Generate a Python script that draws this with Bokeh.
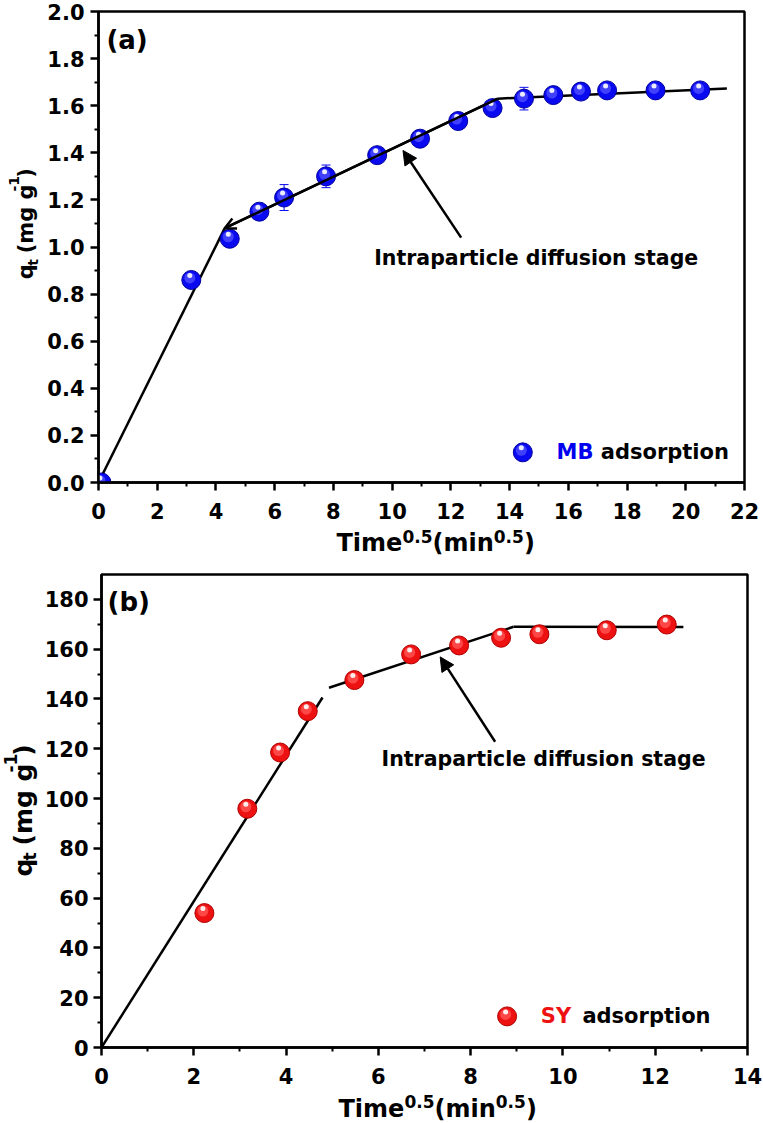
from bokeh.plotting import figure
from bokeh.models import (Range1d, FixedTicker, PrintfTickFormatter, Label, Arrow,
                          NormalHead, OpenHead, ColumnDataSource)
from bokeh.layouts import column, row
from bokeh.transform import dodge
from bokeh.embed import file_html
from bokeh.resources import INLINE

# ---------------- panel (a): MB ----------------
mb_x = [0.1, 3.16, 4.47, 5.48, 6.32, 7.75, 9.49, 10.95, 12.25, 13.42, 14.49, 15.49, 16.43, 17.32, 18.97, 20.49]
mb_y = [0.0, 0.86, 1.035, 1.15, 1.21, 1.30, 1.39, 1.46, 1.535, 1.59, 1.63, 1.645, 1.66, 1.665, 1.665, 1.665]
mb_err = [0.0, 0.01, 0.01, 0.015, 0.055, 0.048, 0.015, 0.015, 0.015, 0.012, 0.048, 0.015, 0.012, 0.012, 0.012, 0.012]
mb_fit1_x = [0.0, 4.3]
mb_fit1_y = [0.0, 1.08]
mb_fit2_x = [4.3, 13.6]
mb_fit2_y = [1.08, 1.63]
mb_fit3_x = [13.6, 21.4]
mb_fit3_y = [1.63, 1.673]
mb_arrow_tail = [12.35, 1.04]
mb_arrow_head = [10.37, 1.41]
a_xticks = [0, 2, 4, 6, 8, 10, 12, 14, 16, 18, 20, 22]
a_xminor = [1, 3, 5, 7, 9, 11, 13, 15, 17, 19, 21]
a_yticks = [0.0, 0.2, 0.4, 0.6, 0.8, 1.0, 1.2, 1.4, 1.6, 1.8, 2.0]
a_yminor = [0.1, 0.3, 0.5, 0.7, 0.9, 1.1, 1.3, 1.5, 1.7, 1.9]

# ---------------- panel (b): SY ----------------
sy_x = [2.23, 3.16, 3.87, 4.47, 5.48, 6.71, 7.75, 8.66, 9.49, 10.95, 12.25]
sy_y = [54.0, 95.9, 118.5, 135.1, 147.6, 157.9, 161.5, 164.6, 166.0, 167.6, 169.9]
sy_fit1_x = [0.0, 4.79]
sy_fit1_y = [0.0, 140.6]
sy_fit2_x = [4.93, 8.93]
sy_fit2_y = [144.5, 169.0]
sy_fit3_x = [8.93, 12.61]
sy_fit3_y = [169.0, 168.9]
sy_arrow_tail = [8.53, 122.8]
sy_arrow_head = [7.34, 156.9]
b_xticks = [0, 2, 4, 6, 8, 10, 12, 14]
b_xminor = [1, 3, 5, 7, 9, 11, 13]
b_yticks = [0, 20, 40, 60, 80, 100, 120, 140, 160, 180]
b_yminor = [10, 30, 50, 70, 90, 110, 130, 150, 170]

FONT = "DejaVu Sans"
BLUE = "#0a0af0"
RED = "#ee1111"
TOTAL_W = 763
MID = 0.346  # distance baseline -> middle of font box (em)

# DejaVu Sans Bold advance widths (em)
ADV = {" ": .348, "(": .456, ")": .456, "-": .415, ".": .381, "T": .682, "i": .343,
       "m": 1.042, "e": .678, "n": .712, "q": .716, "t": .478, "g": .716,
       "M": .994, "B": .762, "S": .720, "Y": .724}
for d in "0123456789":
    ADV[d] = .696


def tw(text, size):
    return sum(ADV.get(c, .6) for c in text) * size


def make_panel(width, height, xr, yr, xt, xm, yt, ym, yfmt, left, right, top, bottom):
    p = figure(width=width, height=height, x_range=Range1d(*xr), y_range=Range1d(*yr),
               output_backend="svg", toolbar_location=None, tools="",
               min_border_left=left, min_border_right=right,
               min_border_top=top, min_border_bottom=bottom)
    p.grid.visible = False
    p.outline_line_color = "black"
    p.outline_line_width = 2.5
    p.outline_line_alpha = 1.0
    p.xaxis.ticker = FixedTicker(ticks=xt, minor_ticks=xm)
    p.yaxis.ticker = FixedTicker(ticks=yt, minor_ticks=ym)
    p.xaxis.formatter = PrintfTickFormatter(format="%d")
    p.yaxis.formatter = PrintfTickFormatter(format=yfmt)
    for ax in (p.xaxis[0], p.yaxis[0]):
        ax.axis_line_width = 2.5
        ax.axis_line_color = "black"
        ax.major_tick_line_width = 2.5
        ax.minor_tick_line_width = 2
        ax.major_tick_line_color = "black"
        ax.minor_tick_line_color = "black"
        ax.major_tick_out = 8
        ax.major_tick_in = 0
        ax.minor_tick_out = 4
        ax.minor_tick_in = 0
        ax.major_label_text_font = FONT
        ax.major_label_text_font_size = "21px"
        ax.major_label_text_font_style = "bold"
        ax.major_label_text_color = "black"
    p.xaxis.major_label_standoff = 12
    p.yaxis.major_label_standoff = 6
    return p


def text_fig(w, h):
    f = figure(width=w, height=h, x_range=Range1d(0, w), y_range=Range1d(0, h),
               output_backend="svg", toolbar_location=None, tools="",
               x_axis_type=None, y_axis_type=None, min_border=0)
    f.outline_line_color = None
    return f


def spheres(p, src, sx, sy, base, edge, mid):
    p.scatter(x="x", y="y", source=src, size=19, fill_color=base, line_color=edge, line_width=1)
    p.scatter(x=dodge("x", -1.5 * sx), y=dodge("y", 2.0 * sy), source=src, size=11,
              fill_color=mid, line_color=None, fill_alpha=0.85)
    p.scatter(x=dodge("x", -1.5 * sx), y=dodge("y", 4.5 * sy), source=src, size=5,
              fill_color="white", line_color=None, fill_alpha=0.9)


def lab(p, x, y, text, size, color="black", baseline="middle", angle=0.0, x_offset=0):
    p.add_layout(Label(x=x, y=y, x_offset=x_offset, text=text, text_font=FONT,
                       text_font_size=f"{size}px", text_font_style="bold", text_color=color,
                       text_align="left", text_baseline=baseline, angle=angle))


def runs_h(f, runs, x0, y_base):
    # y_base: baseline, measured upward from the bottom of the text figure
    cx = x0
    for text, size, shift in runs:
        lead = len(text) - len(text.lstrip(" "))
        cx += tw(" " * lead, size)
        body = text.lstrip(" ")
        lab(f, cx, y_base + shift + MID * size, body, size)
        cx += tw(body, size)


def runs_v(f, runs, x_base, y0):
    # rotated text reading upward; glyph "up" points to the left
    cy = y0
    for text, size, shift in runs:
        lead = len(text) - len(text.lstrip(" "))
        cy += tw(" " * lead, size)
        body = text.lstrip(" ")
        lab(f, x_base - shift - MID * size, cy, body, size, angle=1.5707963)
        cy += tw(body, size)


def panel_decor(p, fits, tail, head, kink_arrow):
    for fx, fy in fits:
        p.line(fx, fy, line_color="black", line_width=2.5)
    p.add_layout(Arrow(end=NormalHead(size=14, fill_color="black", line_color="black"),
                       x_start=tail[0], y_start=tail[1], x_end=head[0], y_end=head[1],
                       line_color="black", line_width=2.5))
    if kink_arrow is not None:
        fx, fy = kink_arrow
        p.add_layout(Arrow(end=OpenHead(size=11, line_color="black", line_width=2.5),
                           x_start=fx[1], y_start=fy[1], x_end=fx[0], y_end=fy[0],
                           line_color="black", line_width=2.5))


# ---------------- panel (a) ----------------
YA_W = 44
PA_H = 526
pa = make_panel(TOTAL_W - YA_W, PA_H, (0, 22), (0, 2), a_xticks, a_xminor, a_yticks, a_yminor,
                "%.1f", left=53, right=19, top=11, bottom=44)
ax_s = 22 / 647.0
ay_s = 2 / 471.0

lo = [y - e for y, e in zip(mb_y, mb_err)]
hi = [y + e for y, e in zip(mb_y, mb_err)]
esrc = ColumnDataSource(dict(x=mb_x, lo=lo, hi=hi))
pa.segment(x0="x", y0="lo", x1="x", y1="hi", source=esrc, line_color=BLUE, line_width=1)
pa.scatter(x="x", y="hi", source=esrc, marker="dash", size=9, line_color=BLUE, line_width=1)
pa.scatter(x="x", y="lo", source=esrc, marker="dash", size=9, line_color=BLUE, line_width=1)

panel_decor(pa, [(mb_fit1_x, mb_fit1_y), (mb_fit2_x, mb_fit2_y), (mb_fit3_x, mb_fit3_y)],
            mb_arrow_tail, mb_arrow_head, (mb_fit2_x, mb_fit2_y))
spheres(pa, ColumnDataSource(dict(x=mb_x, y=mb_y)), ax_s, ay_s, BLUE, "#0000a0", "#4a4aff")

lab(pa, 0.27, 1.877, "(a)", 26)
lab(pa, 9.39, 0.953, "Intraparticle diffusion stage", 20.5)
spheres(pa, ColumnDataSource(dict(x=[14.45], y=[0.128])), ax_s, ay_s, BLUE, "#0000a0", "#4a4aff")
lab(pa, 15.6, 0.128, "MB", 21, color="#0000ee")
lab(pa, 15.6, 0.128, "adsorption", 21, x_offset=tw("MB ", 21))

ya = text_fig(YA_W, PA_H)
runs_v(ya, [("q", 21, 0), ("t", 14, -4), (" (mg g", 21, 0), ("-1", 14, 15), (")", 21, 0)],
       33, PA_H - 299)

XA_H = 34
xa = text_fig(TOTAL_W, XA_H)
runs_h(xa, [("Time", 24, 0), ("0.5", 17, 9.5), ("(min", 24, 0), ("0.5", 17, 9.5), (")", 24, 0)],
       336, XA_H - (551 - 526))

# ---------------- panel (b) ----------------
YB_W = 41
PB_H = 531
pb = make_panel(TOTAL_W - YB_W, PB_H, (0, 14), (0, 190), b_xticks, b_xminor, b_yticks, b_yminor,
                "%d", left=59, right=16, top=14, bottom=44)
pb.yaxis.major_label_standoff = 5
bx_s = 14 / 647.0
by_s = 190 / 473.0

panel_decor(pb, [(sy_fit1_x, sy_fit1_y), (sy_fit2_x, sy_fit2_y), (sy_fit3_x, sy_fit3_y)],
            sy_arrow_tail, sy_arrow_head, None)
spheres(pb, ColumnDataSource(dict(x=sy_x, y=sy_y)), bx_s, by_s, RED, "#b00000", "#ff5050")

lab(pb, 0.13, 178.8, "(b)", 26)
lab(pb, 6.07, 115.8, "Intraparticle diffusion stage", 20.5)
spheres(pb, ColumnDataSource(dict(x=[8.79], y=[12.5])), bx_s, by_s, RED, "#b00000", "#ff5050")
lab(pb, 9.52, 12.5, "SY", 21, color=RED)
lab(pb, 9.52, 12.5, "adsorption", 21, x_offset=tw("SY ", 21) + 4)

yb = text_fig(YB_W, PB_H)
runs_v(yb, [("q", 25, 0), ("t", 17, -3), (" (mg g", 25, 0), ("-1", 17, 16), (")", 25, 0)],
       32, PB_H - (899 - 560))

XB_H = 32
xb = text_fig(TOTAL_W, XB_H)
runs_h(xb, [("Time", 24, 0), ("0.5", 17, 10), ("(min", 24, 0), ("0.5", 17, 10), (")", 24, 0)],
       338, XB_H - (1117 - 1091))

layout = column(row(ya, pa, spacing=0), xa, row(yb, pb, spacing=0), xb, spacing=0)
open("out.html", "w").write(file_html(layout, INLINE))
